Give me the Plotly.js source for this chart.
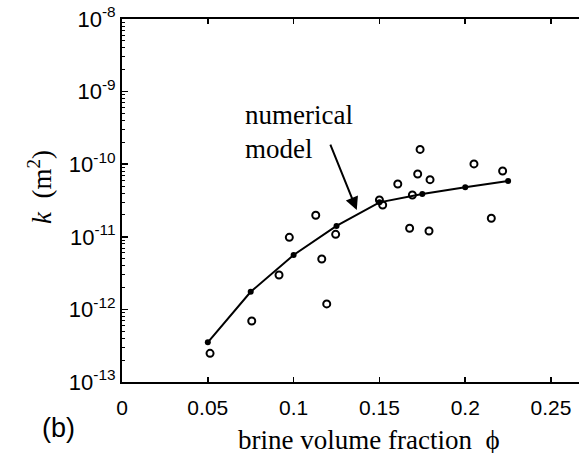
<!DOCTYPE html>
<html>
<head>
<meta charset="utf-8">
<script src="https://cdn.plot.ly/plotly-3.0.1.min.js"></script>
<style>
html,body{margin:0;padding:0;background:#fff;overflow:hidden;}
#chart{width:579px;height:453px;}
</style>
</head>
<body>
<div id="chart"></div>
<script>
// Numerical model (line with filled dots)
var modelPhi = [0.05, 0.075, 0.1, 0.125, 0.15, 0.175, 0.2, 0.225];
var modelK = [3.52e-13, 1.75e-12, 5.61e-12, 1.41e-11, 2.98e-11, 3.89e-11, 4.81e-11, 5.87e-11];

// Measured data (open circles)
var dataPhi = [0.0513, 0.0756, 0.0915, 0.0975, 0.1129, 0.1164, 0.1193, 0.1245, 0.150, 0.1519,
               0.1607, 0.1676, 0.1692, 0.1723, 0.1737, 0.1789, 0.1795, 0.2051, 0.2152, 0.2218];
var dataK = [2.48e-13, 6.92e-13, 2.98e-12, 9.84e-12, 1.98e-11, 4.94e-12, 1.19e-12, 1.08e-11, 3.21e-11, 2.74e-11,
             5.33e-11, 1.31e-11, 3.77e-11, 7.33e-11, 1.60e-10, 1.20e-11, 6.12e-11, 1.01e-10, 1.80e-11, 8.05e-11];

// Axis ticks
var xTickVals = [0, 0.05, 0.1, 0.15, 0.2, 0.25];
var xTickText = ['0', '0.05', '0.1', '0.15', '0.2', '0.25'];
var yTickVals = [1e-13, 1e-12, 1e-11, 1e-10, 1e-9, 1e-8];
var yTickText = ['10<sup>-13</sup>', '10<sup>-12</sup>', '10<sup>-11</sup>', '10<sup>-10</sup>', '10<sup>-9</sup>', '10<sup>-8</sup>'];
var yMinorMultipliers = [2, 3, 4, 5, 6, 7, 8, 9];
var yMinorVals = [];
yTickVals.slice(0, -1).forEach(function (d) {
  yMinorMultipliers.forEach(function (m) { yMinorVals.push(d * m); });
});

var sans = 'Liberation Sans, Arial, sans-serif';
var serif = 'Liberation Serif, Times New Roman, serif';

var traces = [
  {
    x: dataPhi, y: dataK, type: 'scatter', mode: 'markers',
    marker: {symbol: 'circle-open', size: 7, color: '#000', line: {width: 2, color: '#000'}},
    hoverinfo: 'skip', showlegend: false
  },
  {
    x: modelPhi, y: modelK, type: 'scatter', mode: 'lines+markers',
    line: {color: '#000', width: 2},
    marker: {symbol: 'circle', size: 6, color: '#000'},
    hoverinfo: 'skip', showlegend: false
  }
];

var layout = {
  width: 579, height: 453,
  margin: {l: 122, r: 0, t: 19, b: 71, pad: 0},
  paper_bgcolor: '#fff', plot_bgcolor: '#fff',
  showlegend: false,
  xaxis: {
    range: [0, 0.2663],
    tickmode: 'array', tickvals: xTickVals, ticktext: xTickText,
    ticks: 'inside', ticklen: 5, tickwidth: 1.5, tickcolor: '#000',
    showline: true, linewidth: 2, linecolor: '#000', mirror: 'ticks',
    showgrid: false, zeroline: false,
    tickfont: {family: sans, size: 21, color: '#000'},
    ticklabelstandoff: 6
  },
  yaxis: {
    type: 'log', range: [-13, -8],
    tickmode: 'array', tickvals: yTickVals, ticktext: yTickText,
    ticks: 'inside', ticklen: 6, tickwidth: 1.5, tickcolor: '#000',
    minor: {tickmode: 'array', tickvals: yMinorVals, ticks: 'inside', ticklen: 3, tickwidth: 1, tickcolor: '#000', showgrid: false},
    showline: true, linewidth: 2, linecolor: '#000', mirror: false,
    showgrid: false, zeroline: false,
    tickfont: {family: sans, size: 22, color: '#000'}
  },
  annotations: [
    {
      xref: 'x', yref: 'y', x: 0.1368, y: -10.631,
      ax: -27, ay: -67, axref: 'pixel', ayref: 'pixel',
      showarrow: true, arrowhead: 2, arrowsize: 1.3, arrowwidth: 2, arrowcolor: '#000',
      standoff: 0, startstandoff: 0, text: ''
    },
    {
      xref: 'x', yref: 'y', x: 0.0705, y: -9.322, xanchor: 'left', yanchor: 'middle',
      text: 'numerical', showarrow: false,
      font: {family: serif, size: 27, color: '#000'}
    },
    {
      xref: 'x', yref: 'y', x: 0.0705, y: -9.79, xanchor: 'left', yanchor: 'middle',
      text: 'model', showarrow: false,
      font: {family: serif, size: 27, color: '#000'}
    },
    {
      xref: 'paper', yref: 'paper', x: (369 - 122) / 457, y: -(440 - 382) / 363,
      xanchor: 'center', yanchor: 'middle', showarrow: false,
      text: 'brine volume fraction  \u03D5',
      font: {family: serif, size: 27, color: '#000'}
    },
    {
      xref: 'paper', yref: 'paper', x: -(122 - 40) / 457, y: (382 - 187) / 363,
      xanchor: 'center', yanchor: 'middle', showarrow: false, textangle: -90,
      text: '<i>k</i>  (m<sup>2</sup>)',
      font: {family: serif, size: 27, color: '#000'}
    },
    {
      xref: 'paper', yref: 'paper', x: -(122 - 58) / 457, y: -(428 - 382) / 363,
      xanchor: 'center', yanchor: 'middle', showarrow: false,
      text: '(b)',
      font: {family: sans, size: 27, color: '#000'}
    }
  ]
};

Plotly.newPlot('chart', traces, layout, {staticPlot: true, displayModeBar: false});
</script>
</body>
</html>
